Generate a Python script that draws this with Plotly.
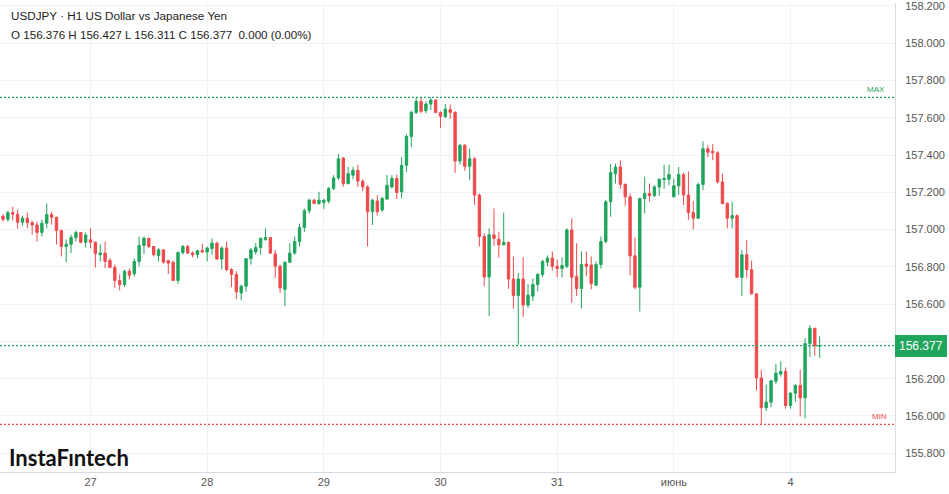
import plotly.graph_objects as go

# ---------------- data (USDJPY, H1) ----------------
opens = [
    157.071, 157.055, 157.091, 157.082, 157.039, 157.061, 157.037, 157.025, 156.985, 157.034,
    157.080, 157.066, 156.995, 156.909, 156.921, 156.957, 156.984, 156.932, 156.945, 156.932,
    156.865, 156.874, 156.834, 156.797, 156.727, 156.705, 156.776, 156.762, 156.829, 156.915,
    156.953, 156.909, 156.861, 156.891, 156.833, 156.825, 156.727, 156.877, 156.909, 156.874,
    156.866, 156.887, 156.880, 156.898, 156.927, 156.842, 156.901, 156.785, 156.759, 156.660,
    156.696, 156.844, 156.880, 156.904, 156.946, 156.957, 156.869, 156.803, 156.679, 156.825,
    156.874, 156.936, 157.011, 157.101, 157.158, 157.140, 157.146, 157.153, 157.220, 157.277,
    157.384, 157.247, 157.292, 157.318, 157.260, 157.229, 157.096, 157.153, 157.105, 157.164,
    157.229, 157.274, 157.203, 157.345, 157.500, 157.629, 157.688, 157.638, 157.674, 157.695,
    157.629, 157.606, 157.644, 157.629, 157.368, 157.452, 157.340, 157.380, 157.185, 156.963,
    156.746, 156.972, 156.948, 156.918, 156.931, 156.735, 156.646, 156.735, 156.595, 156.643,
    156.705, 156.759, 156.825, 156.847, 156.803, 156.791, 156.803, 156.998, 156.749, 156.684,
    156.815, 156.810, 156.702, 156.812, 156.936, 157.149, 157.300, 157.336, 157.243, 157.176,
    156.859, 156.691, 157.167, 157.194, 157.182, 157.229, 157.268, 157.270, 157.176, 157.235,
    157.295, 157.185, 157.092, 157.061, 157.242, 157.434, 157.420, 157.412, 157.256, 157.140,
    157.061, 157.075, 156.744, 156.865, 156.785, 156.655, 156.204, 156.044, 156.074, 156.186,
    156.225, 156.239, 156.056, 156.122, 156.163, 156.097, 156.388, 156.470, 156.376,
]
highs = [
    157.082, 157.101, 157.123, 157.107, 157.075, 157.092, 157.048, 157.043, 157.053, 157.140,
    157.096, 157.069, 157.000, 156.947, 156.973, 156.995, 156.985, 156.985, 157.007, 156.936,
    156.921, 156.936, 156.847, 156.812, 156.759, 156.785, 156.791, 156.847, 156.963, 156.963,
    156.957, 156.909, 156.901, 156.895, 156.838, 156.833, 156.883, 156.918, 156.918, 156.883,
    156.891, 156.925, 156.909, 156.953, 156.936, 156.909, 156.936, 156.793, 156.776, 156.705,
    156.847, 156.901, 156.927, 156.957, 157.007, 156.960, 156.891, 156.812, 156.829, 156.927,
    156.963, 157.032, 157.112, 157.165, 157.164, 157.203, 157.164, 157.229, 157.292, 157.407,
    157.389, 157.336, 157.336, 157.348, 157.270, 157.238, 157.164, 157.185, 157.176, 157.292,
    157.292, 157.295, 157.389, 157.512, 157.638, 157.709, 157.709, 157.688, 157.709, 157.700,
    157.635, 157.674, 157.671, 157.635, 157.460, 157.460, 157.434, 157.389, 157.194, 156.980,
    157.007, 157.114, 156.989, 157.091, 156.936, 156.856, 156.767, 156.851, 156.707, 156.737,
    156.767, 156.838, 156.861, 156.883, 156.838, 156.851, 157.007, 157.060, 156.927, 156.883,
    156.883, 156.856, 156.829, 156.963, 157.158, 157.352, 157.354, 157.372, 157.247, 157.194,
    156.957, 157.171, 157.283, 157.247, 157.238, 157.274, 157.348, 157.348, 157.274, 157.336,
    157.306, 157.313, 157.153, 157.252, 157.473, 157.452, 157.460, 157.420, 157.300, 157.146,
    157.149, 157.082, 156.891, 156.945, 156.833, 156.658, 156.247, 156.168, 156.193, 156.279,
    156.293, 156.260, 156.127, 156.172, 156.247, 156.417, 156.488, 156.474, 156.427,
]
lows = [
    157.043, 157.043, 157.048, 157.005, 157.021, 157.007, 156.973, 156.936, 156.963, 157.007,
    157.027, 156.920, 156.856, 156.825, 156.874, 156.936, 156.927, 156.904, 156.901, 156.797,
    156.829, 156.793, 156.793, 156.687, 156.673, 156.691, 156.732, 156.749, 156.803, 156.869,
    156.901, 156.856, 156.829, 156.817, 156.761, 156.723, 156.708, 156.865, 156.869, 156.851,
    156.847, 156.874, 156.829, 156.865, 156.838, 156.785, 156.776, 156.691, 156.627, 156.621,
    156.666, 156.812, 156.865, 156.865, 156.940, 156.869, 156.741, 156.660, 156.589, 156.820,
    156.865, 156.909, 156.989, 157.085, 157.136, 157.132, 157.111, 157.140, 157.212, 157.265,
    157.229, 157.242, 157.270, 157.229, 157.206, 156.909, 157.025, 157.075, 157.096, 157.158,
    157.220, 157.164, 157.167, 157.309, 157.443, 157.620, 157.624, 157.624, 157.642, 157.624,
    157.546, 157.599, 157.594, 157.304, 157.350, 157.315, 157.265, 157.132, 156.909, 156.696,
    156.536, 156.913, 156.847, 156.915, 156.682, 156.575, 156.381, 156.532, 156.580, 156.616,
    156.669, 156.744, 156.803, 156.780, 156.744, 156.744, 156.793, 156.607, 156.643, 156.577,
    156.749, 156.679, 156.696, 156.791, 156.927, 157.069, 157.247, 157.220, 157.128, 156.755,
    156.679, 156.560, 157.087, 157.149, 157.176, 157.182, 157.220, 157.238, 157.171, 157.185,
    157.132, 157.052, 157.000, 157.057, 157.212, 157.389, 157.372, 157.247, 157.135, 157.007,
    157.007, 156.741, 156.643, 156.741, 156.652, 156.136, 155.955, 156.026, 156.047, 156.172,
    156.211, 156.039, 156.039, 156.074, 155.997, 155.985, 156.317, 156.323, 156.311,
]
closes = [
    157.055, 157.091, 157.082, 157.039, 157.061, 157.037, 157.025, 156.985, 157.034, 157.080,
    157.066, 156.995, 156.909, 156.921, 156.957, 156.984, 156.932, 156.971, 156.932, 156.871,
    156.874, 156.829, 156.797, 156.727, 156.705, 156.776, 156.755, 156.829, 156.915, 156.953,
    156.909, 156.865, 156.891, 156.825, 156.820, 156.727, 156.877, 156.909, 156.874, 156.865,
    156.887, 156.880, 156.901, 156.927, 156.842, 156.901, 156.785, 156.759, 156.666, 156.696,
    156.844, 156.891, 156.904, 156.953, 156.957, 156.874, 156.803, 156.687, 156.825, 156.874,
    156.936, 157.011, 157.101, 157.158, 157.140, 157.158, 157.158, 157.220, 157.277, 157.380,
    157.247, 157.300, 157.318, 157.260, 157.229, 157.096, 157.158, 157.096, 157.167, 157.238,
    157.274, 157.199, 157.345, 157.500, 157.629, 157.688, 157.635, 157.674, 157.695, 157.629,
    157.608, 157.647, 157.629, 157.368, 157.452, 157.340, 157.380, 157.185, 156.963, 156.746,
    156.972, 156.953, 156.918, 156.931, 156.735, 156.646, 156.735, 156.595, 156.648, 156.705,
    156.759, 156.829, 156.847, 156.803, 156.791, 156.808, 156.998, 156.744, 156.684, 156.812,
    156.803, 156.709, 156.812, 156.936, 157.149, 157.306, 157.336, 157.243, 157.176, 156.859,
    156.691, 157.167, 157.194, 157.182, 157.229, 157.270, 157.274, 157.295, 157.235, 157.295,
    157.185, 157.092, 157.061, 157.242, 157.434, 157.415, 157.412, 157.256, 157.140, 157.061,
    157.075, 156.744, 156.865, 156.785, 156.655, 156.204, 156.044, 156.074, 156.189, 156.229,
    156.239, 156.056, 156.122, 156.163, 156.097, 156.388, 156.470, 156.376, 156.377,
]
bar_index = list(range(len(closes)))

# day boundaries (bar index of 00:00) and their labels
day_ticks = [18, 42, 66, 90, 114, 138, 162]
day_labels = ["27", "28", "29", "30", "31", "июнь", "4"]

# price scale ticks (156.400 is hidden behind the last-price badge)
price_grid = [155.8, 156.0, 156.2, 156.4, 156.6, 156.8, 157.0, 157.2, 157.4, 157.6, 157.8, 158.0, 158.2]
price_ticks = [155.8, 156.0, 156.2, 156.6, 156.8, 157.0, 157.2, 157.4, 157.6, 157.8, 158.0, 158.2]
price_labels = [f"{v:.3f}" for v in price_ticks]

title_line = "USDJPY · H1 US Dollar vs Japanese Yen"
ohlc_line = "O 156.376 H 156.427 L 156.311 C 156.377\u00a0\u00a00.000 (0.00%)"
last_price = closes[-1]
max_price = max(highs)
min_price = min(lows)

UP = "#1fa55c"
DOWN = "#f04a4c"
GRID = "#f0f1f3"
SANS = "Liberation Sans, Arial, sans-serif"
AXIS_FONT = dict(family=SANS, size=11, color="#555555")

fig = go.Figure(go.Candlestick(
    x=bar_index, open=opens, high=highs, low=lows, close=closes,
    increasing=dict(line=dict(color=UP, width=1), fillcolor=UP),
    decreasing=dict(line=dict(color=DOWN, width=1), fillcolor=DOWN),
    whiskerwidth=0, hoverinfo="skip", showlegend=False,
))

fig.update_layout(
    width=949, height=494,
    margin=dict(l=0, r=54, t=0, b=22),
    paper_bgcolor="white", plot_bgcolor="white",
    showlegend=False,
    boxgap=0.3,
    xaxis=dict(
        range=[-0.62, 183.5], rangeslider=dict(visible=False),
        tickmode="array", tickvals=day_ticks, ticktext=day_labels,
        showgrid=True, gridcolor=GRID, gridwidth=1, zeroline=False,
        showline=True, linecolor="#d5dbe1", linewidth=1,
        ticks="", tickfont=AXIS_FONT, fixedrange=True,
    ),
    yaxis=dict(
        side="right", range=[155.699, 158.216],
        tickmode="array", tickvals=price_ticks, ticktext=price_labels,
        showgrid=True, gridcolor=GRID, gridwidth=1, zeroline=False,
        showline=True, linecolor="#d5dbe1", linewidth=1,
        ticks="", ticklabelstandoff=7, ticklabeloverflow="allow",
        tickfont=AXIS_FONT, fixedrange=True,
    ),
)

# grid line kept under the badge
for gv in price_grid:
    if gv not in price_ticks:
        fig.add_shape(type="line", xref="paper", x0=0, x1=1, yref="y", y0=gv, y1=gv,
                      line=dict(color=GRID, width=1), layer="below")

# reference lines (max, min, last price)
for yv, col in [(max_price, UP), (min_price, DOWN), (last_price, UP)]:
    fig.add_shape(type="line", xref="paper", x0=0, x1=1, yref="y", y0=yv, y1=yv,
                  line=dict(color=col, width=1.2, dash="2px,2px"))

ann = []
ann.append(dict(text=title_line, xref="paper", yref="paper", x=9 / 895, y=1 - 13 / 472,
                xanchor="left", yanchor="middle", showarrow=False,
                font=dict(family=SANS, size=11.7, color="#222222")))
ann.append(dict(text=ohlc_line, xref="paper", yref="paper", x=9 / 895, y=1 - 32 / 472,
                xanchor="left", yanchor="middle", showarrow=False,
                font=dict(family=SANS, size=11.6, color="#222222")))
ann.append(dict(text="MAX", xref="paper", yref="y", x=887 / 895, y=max_price,
                xanchor="right", yanchor="bottom", yshift=1, showarrow=False,
                font=dict(family=SANS, size=8, color=UP)))
ann.append(dict(text="MIN", xref="paper", yref="y", x=889 / 895, y=min_price,
                xanchor="right", yanchor="bottom", yshift=1, showarrow=False,
                font=dict(family=SANS, size=8, color=DOWN)))
ann.append(dict(text=f"{last_price:.3f}", xref="paper", yref="y", x=1, y=last_price,
                xanchor="left", yanchor="middle", showarrow=False,
                bgcolor=UP, bordercolor=UP, borderpad=3, borderwidth=1,
                font=dict(family=SANS, size=12, color="white")))
ann.append(dict(text="<b>InstaFıntech</b>", xref="paper", yref="paper", x=7 / 895, y=1 - 457 / 472,
                xanchor="left", yanchor="middle", showarrow=False,
                font=dict(family="Lato, Inter, sans-serif", size=22, color="#111111")))
fig.update_layout(annotations=ann)

fig.write_html("out.html", config={"displayModeBar": False},
               post_script="document.body.style.margin='0';")
